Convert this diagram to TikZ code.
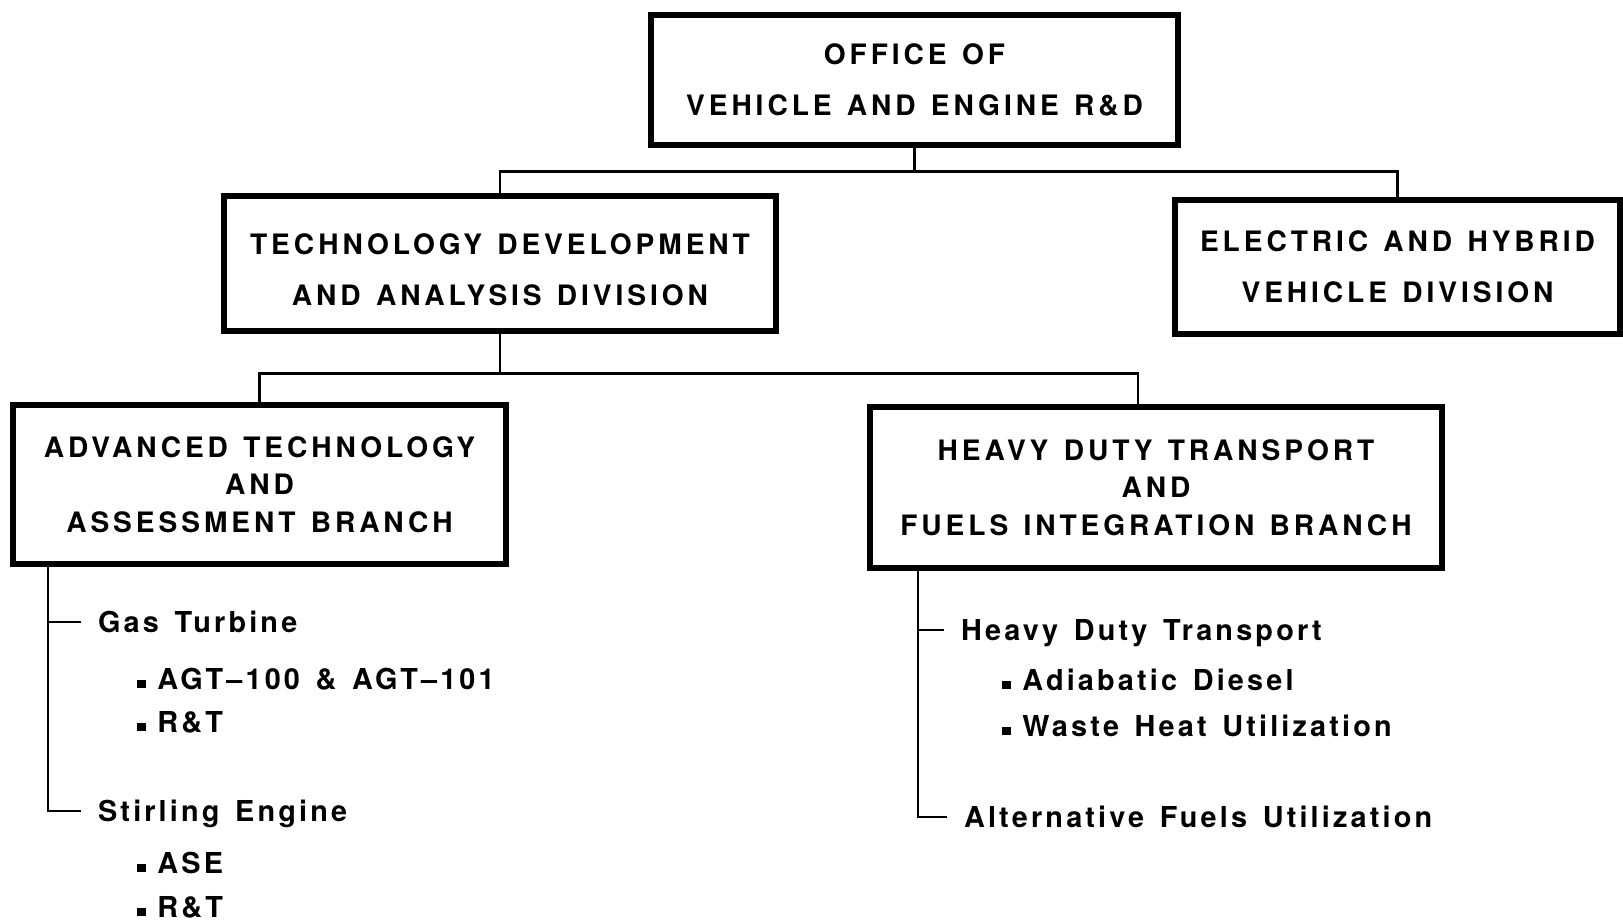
\documentclass[tikz,border=0pt]{standalone}
\usepackage{fontspec}
\newfontfamily\orgfont{TeX Gyre Heros}[LetterSpace=14, WordSpace=1.3]
\newfontfamily\listfont{TeX Gyre Heros}[LetterSpace=11, WordSpace=1.4]
\newcommand\sqdot{\raisebox{0.04em}{\rule{0.3em}{0.26em}}\hspace{0.4em}}

\begin{document}
\begin{tikzpicture}[
  x=0.025cm,
  y=-0.025cm,
  box/.style={
    rectangle,
    draw=black,
    line width=0.17cm,
    align=center,
    font={\orgfont\bfseries\fontsize{20}{36.5}\selectfont}
  },
  branch/.style={
    box,
    font={\orgfont\bfseries\fontsize{20}{26.5}\selectfont}
  },
  head/.style={
    anchor=base west,
    inner xsep=0.42cm,
    text height=14.4pt,
    text depth=0pt,
    font={\listfont\bfseries\fontsize{20.5}{24}\selectfont}
  },
  item/.style={head, inner xsep=0pt},
  link/.style={line width=1.6pt, draw=black}
]
\useasboundingbox (0,0) rectangle (1623,921);

\node[box, minimum width=13.175cm, minimum height=3.25cm] (office) at (914.5, 80)
  {OFFICE OF\\VEHICLE AND ENGINE R\&D};

\node[box, minimum width=13.8cm, minimum height=3.375cm] (tdad) at (500, 263.5)
  {\rule{0pt}{1.2em}TECHNOLOGY DEVELOPMENT\\AND ANALYSIS DIVISION};
\node[box, minimum width=11.125cm, minimum height=3.35cm] (ehvd) at (1397.5, 267)
  {ELECTRIC AND HYBRID\\VEHICLE DIVISION};

\node[branch, minimum width=12.325cm, minimum height=3.975cm] (atab) at (259.5, 484.5)
  {ADVANCED TECHNOLOGY\\AND\\ASSESSMENT BRANCH};
\node[branch, minimum width=14.3cm, minimum height=4.025cm] (hdtf) at (1156, 487.5)
  {HEAVY DUTY TRANSPORT\\AND\\FUELS INTEGRATION BRANCH};

\node[head] (gasturb) at (81, 632) {Gas Turbine};
\node[item] (agt) at (137, 689) {\sqdot AGT\textendash100 \& AGT\textendash101};
\node[item] (rtgas) at (137, 732) {\sqdot R\&T};
\node[head] (stirling) at (81, 821) {Stirling Engine};
\node[item] (ase) at (137, 873) {\sqdot ASE};
\node[item] (rtstir) at (137, 917) {\sqdot R\&T};

\node[head] (hdt) at (944, 640) {Heavy Duty Transport};
\node[item] (adiab) at (1002, 690) {\sqdot Adiabatic Diesel};
\node[item] (waste) at (1002, 736) {\sqdot Waste Heat Utilization};
\node[head] (altfuel) at (947, 827) {Alternative Fuels Utilization};

\coordinate (spineL) at (48, 0);
\coordinate (spineR) at (918, 0);

\draw[link] (office.south) -- ++(0,23) -| (tdad.north);
\draw[link] (office.south) -- ++(0,23) -| (ehvd.north);
\draw[link] (tdad.south) -- ++(0,39) -| (atab.north);
\draw[link] (tdad.south) -- ++(0,39) -| ([xshift=-0.45cm]hdtf.north);
\draw[link] (spineL |- atab.south) |- (stirling.west);
\draw[link] (spineL |- gasturb.west) -- (gasturb.west);
\draw[link] (spineR |- hdtf.south) |- (altfuel.west);
\draw[link] (spineR |- hdt.west) -- (hdt.west);
\end{tikzpicture}
\end{document}
